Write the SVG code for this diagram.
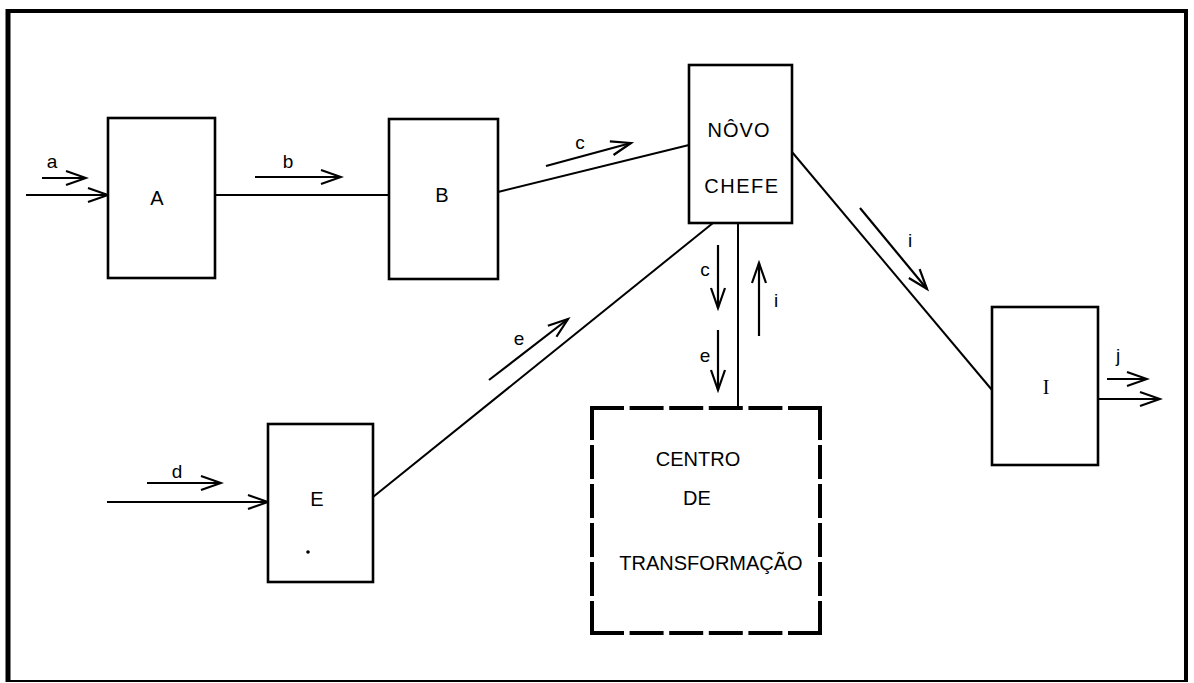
<svg xmlns="http://www.w3.org/2000/svg" width="1194" height="683" viewBox="0 0 1194 683">
<defs>
<marker id="ah" markerUnits="userSpaceOnUse" markerWidth="24" markerHeight="18" refX="21" refY="9" orient="auto">
<path d="M1,2 L21,9 L1,16" fill="none" stroke="#000" stroke-width="2.2"/>
</marker>
<style>
.box{fill:#fff;stroke:#000;stroke-width:2.6}
.ln{fill:none;stroke:#000;stroke-width:2}
.ar{fill:none;stroke:#000;stroke-width:2.2;marker-end:url(#ah)}
.t{font-family:"Liberation Sans",Arial,sans-serif;font-size:20px;fill:#000;text-anchor:middle}
.s{font-family:"Liberation Sans",Arial,sans-serif;font-size:19px;fill:#000;text-anchor:middle}
.dash{fill:none;stroke:#000;stroke-width:4;stroke-linecap:square}
</style>
</defs>
<rect width="1194" height="683" fill="#fff"/>
<g id="frame">
<line x1="8" y1="9" x2="8" y2="682" stroke="#000" stroke-width="5"/>
<line x1="6" y1="11" x2="1188" y2="11" stroke="#000" stroke-width="4"/>
<line x1="1186" y1="9" x2="1186" y2="682" stroke="#000" stroke-width="4"/>
<line x1="6" y1="681" x2="1188" y2="681" stroke="#000" stroke-width="2"/>
</g>
<g id="connectors">
<line class="ar" x1="26" y1="195" x2="108" y2="195"/>
<line class="ar" x1="42" y1="178" x2="86" y2="178"/>
<line class="ln" x1="215" y1="195" x2="389" y2="195"/>
<line class="ar" x1="255" y1="177" x2="341" y2="177"/>
<line class="ln" x1="498" y1="192" x2="689" y2="145"/>
<line class="ar" x1="546" y1="166" x2="631" y2="143"/>
<line class="ln" x1="713" y1="223" x2="373" y2="497"/>
<line class="ar" x1="489" y1="380" x2="568" y2="319"/>
<line class="ln" x1="738" y1="223" x2="738" y2="408"/>
<line class="ar" x1="718" y1="245" x2="718" y2="308"/>
<line class="ar" x1="718" y1="330" x2="718" y2="390"/>
<line class="ar" x1="759" y1="336" x2="759" y2="263"/>
<line class="ln" x1="792" y1="152" x2="992" y2="390"/>
<line class="ar" x1="860" y1="208" x2="927" y2="289"/>
<line class="ar" x1="1098" y1="399" x2="1160" y2="399"/>
<line class="ar" x1="1107" y1="379" x2="1147" y2="379"/>
<line class="ar" x1="107" y1="502" x2="268" y2="502"/>
<line class="ar" x1="147" y1="483" x2="221" y2="483"/>
<text class="s" x="52" y="168">a</text>
<text class="s" x="288" y="168">b</text>
<text class="s" x="580" y="149">c</text>
<text class="s" x="519" y="345">e</text>
<text class="s" x="705" y="276">c</text>
<text class="s" x="705" y="362">e</text>
<text class="s" x="776" y="307">i</text>
<text class="s" x="910" y="247">i</text>
<text class="s" x="1118" y="362">j</text>
<text class="s" x="177" y="478">d</text>
</g>
<g id="node-A">
<rect class="box" x="108" y="118" width="107" height="160"/>
<text class="t" x="157" y="205">A</text>
</g>
<g id="node-B">
<rect class="box" x="389" y="119" width="109" height="160"/>
<text class="t" x="442" y="202">B</text>
</g>
<g id="node-chefe">
<rect class="box" x="689" y="65" width="103" height="158"/>
<text class="t" x="739" y="137" letter-spacing="1">NÔVO</text>
<text class="t" x="742" y="193" letter-spacing="1.5">CHEFE</text>
</g>
<g id="node-E">
<rect class="box" x="268" y="424" width="105" height="158"/>
<text class="t" x="317" y="506">E</text>
<circle cx="308" cy="552" r="1.8" fill="#000"/>
</g>
<g id="node-I">
<rect class="box" x="992" y="307" width="106" height="158"/>
<text class="t" x="1046" y="394" style="font-family:'Liberation Serif',serif">I</text>
</g>
<g id="node-centro">
<rect x="592" y="408" width="228" height="225" fill="#fff"/>
<line class="dash" x1="592" y1="408" x2="820" y2="408" stroke-dasharray="30 9.6"/>
<line class="dash" x1="592" y1="633" x2="820" y2="633" stroke-dasharray="30 9.6"/>
<line class="dash" x1="592" y1="408" x2="592" y2="633" stroke-dasharray="30 9"/>
<line class="dash" x1="820" y1="408" x2="820" y2="633" stroke-dasharray="30 9"/>
<text class="t" x="698" y="466">CENTRO</text>
<text class="t" x="697" y="505">DE</text>
<text class="t" x="711" y="570">TRANSFORMAÇÃO</text>
</g>
</svg>
